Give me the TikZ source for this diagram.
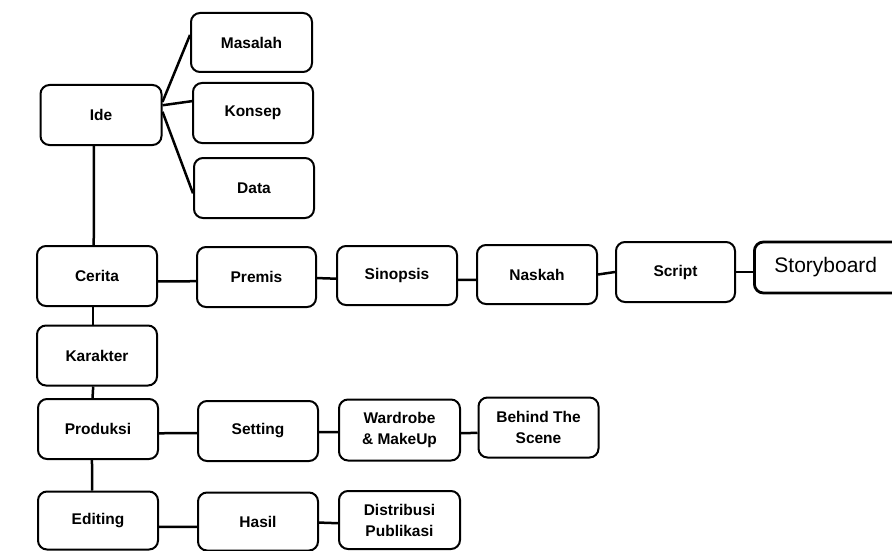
\documentclass[tikz,border=0pt]{standalone}
\usepackage{fontspec}
\setmainfont{Liberation Sans}
\usepackage{tikz}
\usetikzlibrary{positioning, calc}

\begin{document}
\begin{tikzpicture}[x=1pt, y=-1pt,
    box/.style = {draw, line width=2pt, rounded corners=9pt,
      minimum width=120pt, minimum height=60pt, align=center,
      font=\bfseries\fontsize{15.5}{21}\selectfont, inner sep=2pt},
    link/.style = {line width=2.5pt}]
  \clip (0,0) rectangle (892,551);
  \useasboundingbox (0,0) rectangle (892,551);
  % ide and its branches
  \node[box, minimum width=121pt] (ide) at (101,115) {Ide};
  \node[box, minimum width=121pt, minimum height=59pt] (masalah) at (251.5,42.5) {Masalah};
  \node[box] (konsep) at (253,113) {Konsep};
  \node[box] (data) at (254,188) {Data};
  % cerita row
  \node[box] (cerita) at (97,276) {Cerita};
  \node[box, minimum width=119pt] (premis) at (256.5,277) {Premis};
  \node[box, minimum height=59pt] (sinopsis) at (397,275.5) {Sinopsis};
  \node[box, minimum height=59pt] (naskah) at (537,274.5) {Naskah};
  \node[box, minimum width=119pt] (script) at (675.5,272) {Script};
  \node[draw, line width=2.8pt, rounded corners=9pt, anchor=west,
    minimum height=51pt, minimum width=160pt, inner xsep=20pt, align=left,
    text width=120pt, font=\fontsize{21}{25}\selectfont] (storyboard) at (753,267.5) {Storyboard};
  \node[box] (karakter) at (97,355.5) {Karakter};
  % produksi row
  \node[box] (produksi) at (98,429) {Produksi};
  \node[box] (setting) at (258,431) {Setting};
  \node[box, minimum width=121pt, minimum height=61pt] (wardrobe) at (399.5,430) {Wardrobe\\\& MakeUp};
  \node[box] (behind) at (538.5,427.5) {Behind The\\Scene};
  % editing row
  \node[box, minimum height=58pt] (editing) at (98,520.5) {Editing};
  \node[box, minimum height=58pt] (hasil) at (258,521.5) {Hasil};
  \node[box, minimum width=121pt, minimum height=58pt] (distribusi) at (399.5,520) {Distribusi\\Publikasi};

  \draw[link] (ide.12) -- (masalah.173);
  \draw[link] (ide.9) -- (konsep.169);
  \draw[link] (ide.3) -- (data.185);
  \draw[link] (ide.-103) -- (cerita.96);
  \draw[link] (cerita.-5) -- (premis.184);
  \draw[link] (premis.-1) -- (sinopsis.183);
  \draw[link] (sinopsis.-4) -- (naskah.185);
  \draw[link] (naskah.east) -- (script.west);
  \draw[link] (script.east) -- (script.east -| storyboard.west);
  \draw[link] (cerita.-97) -- (karakter.97);
  \draw[link] (karakter.-97) -- (produksi.100);
  \draw[link] (produksi.-4) -- (setting.182);
  \draw[link] (setting.-1) -- (wardrobe.182);
  \draw[link] (wardrobe.-3) -- (behind.185);
  \draw[link] (produksi.-101) -- (editing.101);
  \draw[link] (editing.-6) -- (hasil.185);
  \draw[link] (hasil.-1) -- (distribusi.183);
\end{tikzpicture}
\end{document}
